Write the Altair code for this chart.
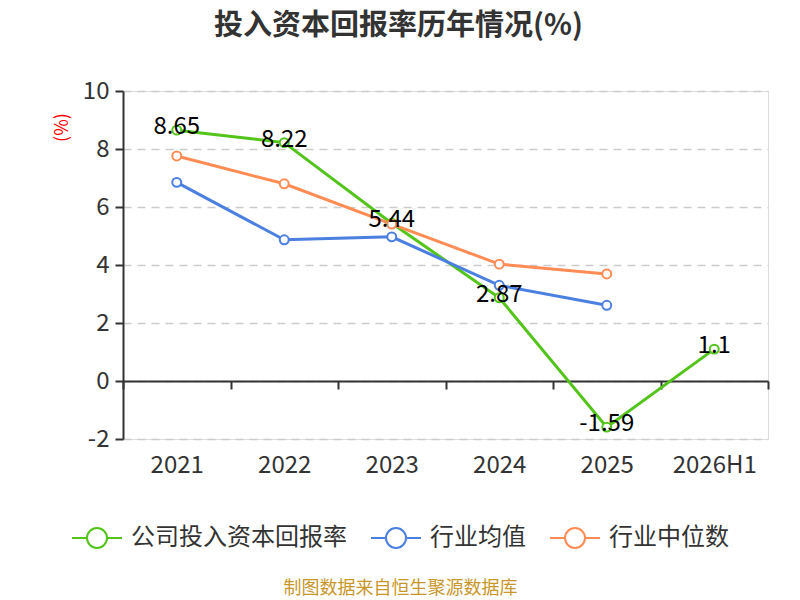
import altair as alt
import pandas as pd

categories = ["2021", "2022", "2023", "2024", "2025", "2026H1"]
series_names = ["公司投入资本回报率", "行业均值", "行业中位数"]
company = [8.65, 8.22, 5.44, 2.87, -1.59, 1.1]
ind_mean = [6.85, 4.87, 4.97, 3.30, 2.61, None]
ind_median = [7.76, 6.80, 5.41, 4.03, 3.69, None]
colors = ["#52c41a", "#4b7fe0", "#ff8c55"]

rows = []
for name, vals in zip(series_names, [company, ind_mean, ind_median]):
    for c, v in zip(categories, vals):
        if v is not None:
            rows.append({"cat": c, "value": v, "series": name,
                         "order": series_names.index(name), "label": f"{v:g}"})
df = pd.DataFrame(rows)

FONT = "Noto Sans CJK SC"
sym = "M-1,0L-0.4,0M0.4,0L1,0M-0.4,0A0.4,0.4,0,1,1,0.4,0A0.4,0.4,0,1,1,-0.4,0Z"

x_enc = alt.X(
    "cat:N",
    sort=categories,
    scale=alt.Scale(paddingInner=0, paddingOuter=0),
    axis=alt.Axis(
        title="制图数据来自恒生聚源数据库",
        titleColor="#c9962b",
        titleFontSize=18,
        titleFontWeight="normal",
        titleFont=FONT,
        titleX=277,
        titleY=207,
        titleAlign="center",
        titleBaseline="middle",
        titleAnchor="start",
        offset=-58,
        labelAngle=0,
        labelFontSize=24,
        labelColor="#333333",
        labelFont=FONT,
        labelPadding=64,
        domainColor="#333333",
        domainWidth=2,
        tickColor="#333333",
        tickWidth=2,
        tickSize=8,
        tickBand="extent",
        grid=False,
    ),
)
y_enc = alt.Y(
    "value:Q",
    scale=alt.Scale(domain=[-2, 10], nice=False),
    axis=alt.Axis(
        title="(%)",
        titleColor="#ff0000",
        titleFontSize=18,
        titleFontWeight="normal",
        titleFont=FONT,
        titleX=-61,
        titleY=36,
        titleAngle=270,
        titleAlign="center",
        titleBaseline="middle",
        values=[-2, 0, 2, 4, 6, 8, 10],
        labelExpr="replace(datum.label, '−', '-')",
        labelFontSize=24,
        labelColor="#333333",
        labelFont=FONT,
        labelPadding=6,
        domainColor="#333333",
        domainWidth=2,
        tickColor="#333333",
        tickWidth=2,
        tickSize=8,
        grid=True,
        gridColor="#cccccc",
        gridWidth=1.5,
        gridDash=[8, 6],
    ),
)
color_enc = alt.Color(
    "series:N",
    scale=alt.Scale(domain=series_names, range=colors),
    legend=alt.Legend(
        title=None,
        orient="none",
        legendX=-52,
        legendY=421,
        direction="horizontal",
        symbolType=sym,
        symbolSize=2500,
        symbolStrokeWidth=2,
        symbolFillColor="transparent",
        labelFontSize=24,
        labelColor="#333333",
        labelFont=FONT,
        labelOffset=8,
        columnPadding=20,
        labelLimit=400,
    ),
)

base = alt.Chart(df)
lines = base.mark_line(strokeWidth=3).encode(x=x_enc, y=y_enc, color=color_enc, order="order:Q")
points = base.mark_point(filled=True, fill="white", size=80, strokeWidth=2, opacity=1).encode(
    x=alt.X("cat:N", sort=categories),
    y="value:Q",
    stroke=alt.Stroke("series:N", scale=alt.Scale(domain=series_names, range=colors), legend=None),
)
labels = base.transform_filter(alt.datum.series == series_names[0]).mark_text(
    fontSize=24, font=FONT, color="#000000", baseline="middle", dy=-3
).encode(
    x=alt.X("cat:N", sort=categories),
    y="value:Q",
    text="label:N",
)

chart = (
    alt.layer(lines, points, labels)
    .properties(
        width=645,
        height=348,
        autosize=alt.AutoSizeParams(type="none"),
        padding={"left": 115, "top": 83, "right": 16, "bottom": 161},
        title=alt.TitleParams(
            text="投入资本回报率历年情况(%)",
            fontSize=29,
            fontWeight="bold",
            color="#333333",
            font=FONT,
            anchor="middle",
            frame="group",
            dx=-47,
            offset=38,
        ),
    )
    .configure_view(stroke=None)
    .configure(background="white")
)

chart.save("out.html", embed_options={"renderer": "svg", "actions": False})
